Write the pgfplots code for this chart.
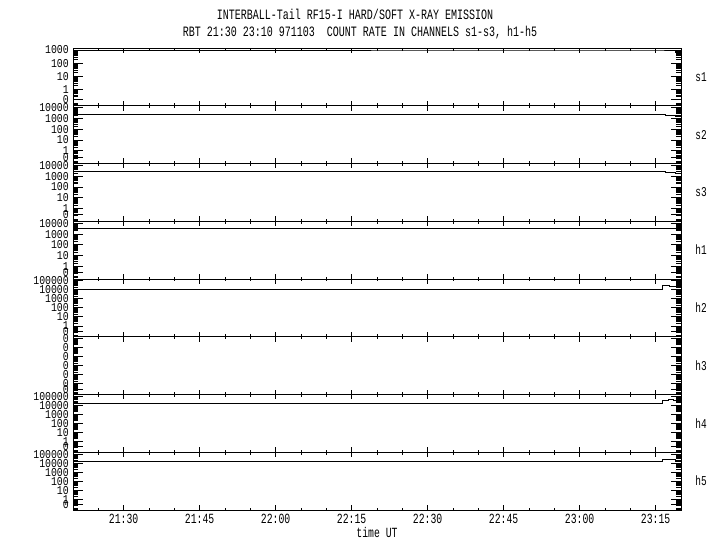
\documentclass[border=0pt]{standalone}
\usepackage{fontspec}
\setmainfont[FakeStretch=0.7]{Liberation Mono}
\newfontfamily\ylab[FakeStretch=0.82]{Liberation Mono}
\usepackage{pgfplots}
\pgfplotsset{compat=1.18}

% log decade minor ticks, decades -2..5
\def\minorlist{-1.097,-1.046,-1,-0.699,-0.523,-0.398,-0.301,-0.222,-0.155,-0.097,-0.046,
0.301,0.477,0.602,0.699,0.778,0.845,0.903,0.954,
1.301,1.477,1.602,1.699,1.778,1.845,1.903,1.954,
2.301,2.477,2.602,2.699,2.778,2.845,2.903,2.954,
3.301,3.477,3.602,3.699,3.778,3.845,3.903,3.954,
4.301,4.477,4.602,4.699,4.778,4.845,4.903,4.954,
5.301}

\pgfplotsset{
  panel/.style={
    scale only axis, width=608pt, height=57.75pt,
    at={(73pt,#1)}, anchor=south west,
    xmin=1280, xmax=1400,
    xtick={1290,1305,...,1395},
    minor xtick={1280,1285,...,1400},
    xticklabels={},
    minor ytick=\minorlist,
    tick align=inside,
    ticks=both,
    major tick length=10pt, minor tick length=5pt,
    x tick style={/pgfplots/major tick length=5pt, /pgfplots/minor tick length=2.5pt},
    axis line style={line width=0.9pt},
    every tick/.style={black, line width=0.8pt},
    yticklabel style={font=\ylab\fontsize{12}{12}\selectfont, inner sep=1pt, xshift=-3pt},
    clip=false,
  },
  dline/.style={black, line width=0.9pt, const plot, mark=none},
}

\begin{document}
\begin{tikzpicture}
\path[use as bounding box] (0,0) rectangle (720pt,550pt);

\node[font=\fontsize{14.3}{14.3}\selectfont] at (355pt,536pt) {INTERBALL-Tail RF15-I HARD/SOFT X-RAY EMISSION};
\node[font=\fontsize{14.3}{14.3}\selectfont] at (360pt,517pt) {RBT 21:30 23:10 971103\ \ COUNT RATE IN CHANNELS s1-s3, h1-h5};

% s1
\begin{axis}[panel=444.25pt, ymin=-1.2, ymax=3.15,
  ytick={-0.7,0,1,2,3}, yticklabels={0,1,10,100,1000}]
\addplot[dline] coordinates {(1280,3.0) (1396.5,3.0) (1397,2.93) (1399,2.78) (1400,2.78)};
\end{axis}
\node[font=\fontsize{13.5}{13.5}\selectfont] at (701pt,473pt) {s1};

% s2
\begin{axis}[panel=386.5pt, ymin=-1.2, ymax=4.2,
  ytick={-0.6,0,1,2,3,4}, yticklabels={0,1,10,100,1000,10000}]
\addplot[dline] coordinates {(1280,3.43) (1396.8,3.43) (1397,3.28) (1399,3.24) (1400,3.24)};
\end{axis}
\node[font=\fontsize{13.5}{13.5}\selectfont] at (701pt,415.4pt) {s2};

% s3
\begin{axis}[panel=328.75pt, ymin=-1.2, ymax=4.2,
  ytick={-0.6,0,1,2,3,4}, yticklabels={0,1,10,100,1000,10000}]
\addplot[dline] coordinates {(1280,3.5) (1396.6,3.5) (1397,3.36) (1399,3.3) (1400,3.3)};
\end{axis}
\node[font=\fontsize{13.5}{13.5}\selectfont] at (701pt,357.6pt) {s3};

% h1
\begin{axis}[panel=271pt, ymin=-1.2, ymax=4.2,
  ytick={-0.6,0,1,2,3,4}, yticklabels={0,1,10,100,1000,10000}]
\addplot[dline] coordinates {(1280,3.57) (1397,3.57) (1397.5,3.5) (1400,3.48)};
\end{axis}
\node[font=\fontsize{13.5}{13.5}\selectfont] at (701pt,300pt) {h1};

% h2
\begin{axis}[panel=213.25pt, ymin=-1.2, ymax=5.2,
  ytick={-0.6,0,1,2,3,4,5}, yticklabels={0,1,10,100,1000,10000,100000}]
\addplot[dline] coordinates {(1280,4.09) (1396.4,4.53) (1397.8,4.42) (1400,4.42)};
\end{axis}
\node[font=\fontsize{13.5}{13.5}\selectfont] at (701pt,242pt) {h2};

% h3
\begin{axis}[panel=155.5pt, ymin=-1.2, ymax=5.2,
  ytick={-0.6,0,1,2,3,4,5}, yticklabels={0,0,0,0,0,0,0}]
\addplot[dline] coordinates {(1280,-1.2) (1400,-1.2)};
\end{axis}
\node[font=\fontsize{13.5}{13.5}\selectfont] at (701pt,184.4pt) {h3};

% h4
\begin{axis}[panel=97.75pt, ymin=-1.2, ymax=5.2,
  ytick={-0.6,0,1,2,3,4,5}, yticklabels={0,1,10,100,1000,10000,100000}]
\addplot[dline] coordinates {(1280,4.26) (1396.4,4.59) (1397.5,4.62) (1398.5,4.59) (1400,4.59)};
\end{axis}
\node[font=\fontsize{13.5}{13.5}\selectfont] at (701pt,126.6pt) {h4};

% h5
\begin{axis}[panel=40pt, ymin=-1.2, ymax=5.2,
  ytick={-0.6,0,1,2,3,4,5}, yticklabels={0,1,10,100,1000,10000,100000},
  xticklabels={21:30,21:45,22:00,22:15,22:30,22:45,23:00,23:15},
  xticklabel style={font=\fontsize{14}{14}\selectfont, yshift=-1pt},
  xlabel={time UT}, xlabel style={font=\fontsize{14}{14}\selectfont, yshift=4pt}]
\addplot[dline] coordinates {(1280,4.23) (1396.4,4.45) (1397.8,4.4) (1399,4.2) (1400,4.0)};
\end{axis}
\node[font=\fontsize{13.5}{13.5}\selectfont] at (701pt,69pt) {h5};

\end{tikzpicture}
\end{document}
